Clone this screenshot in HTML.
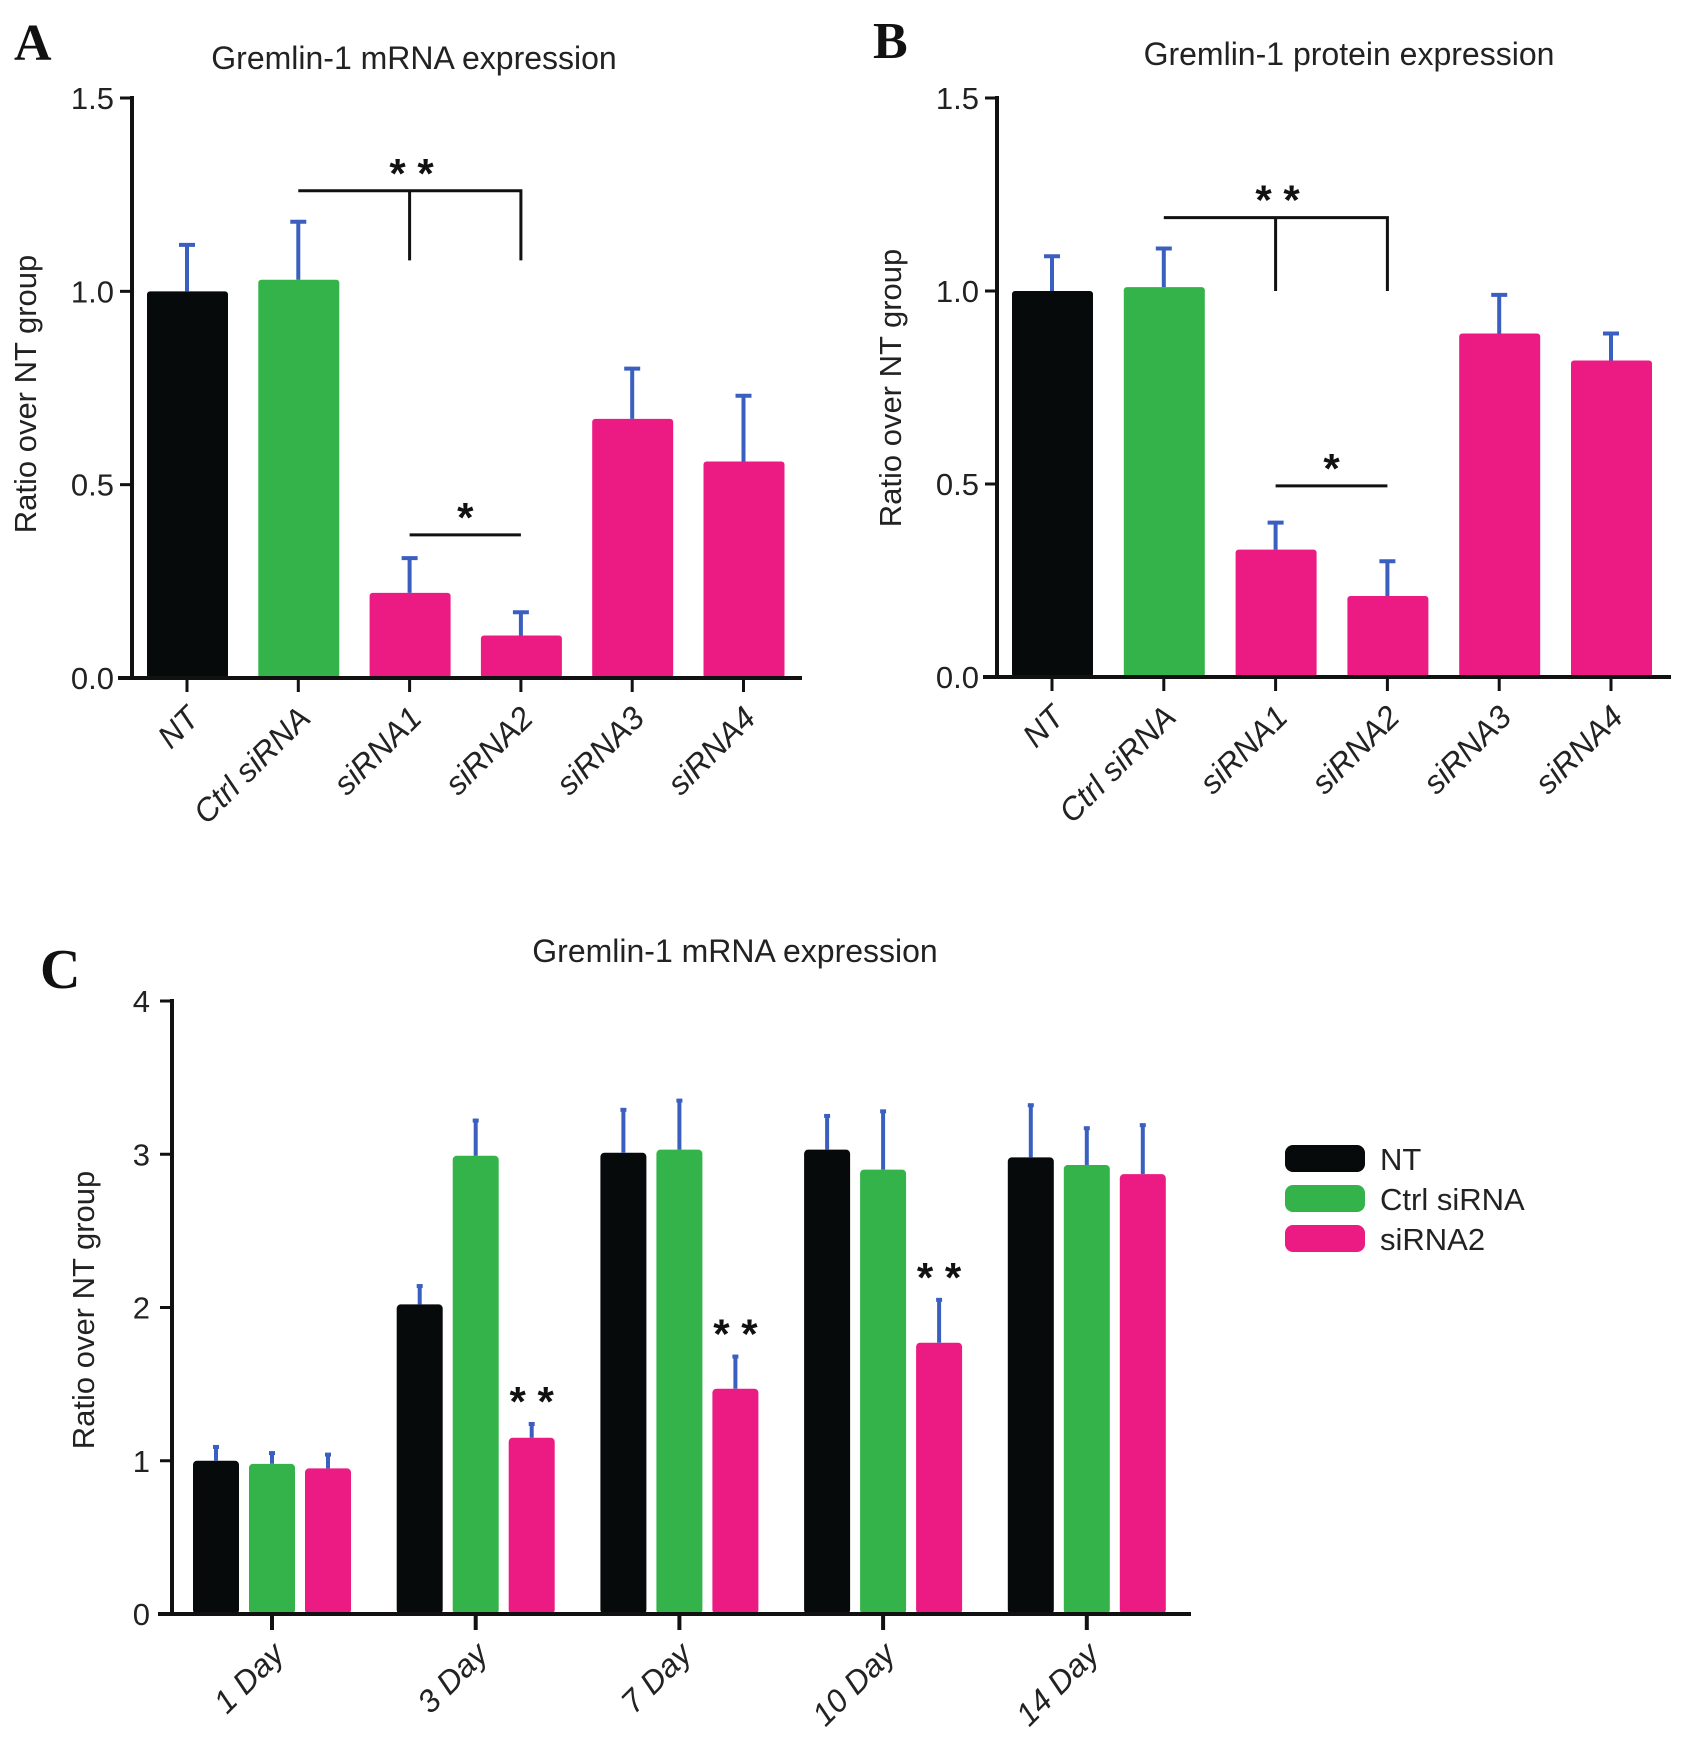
<!DOCTYPE html>
<html><head><meta charset="utf-8"><style>
body{margin:0;background:#fff;}
svg{display:block;font-family:"Liberation Sans",sans-serif;}
</style></head><body>
<svg id="fig" width="1681" height="1740" viewBox="0 0 1681 1740" xmlns="http://www.w3.org/2000/svg"></svg>
<script>
// Panel A data
const catsA = ["NT","Ctrl siRNA","siRNA1","siRNA2","siRNA3","siRNA4"];
const valsA = [1.0,1.03,0.22,0.11,0.67,0.56];
const errA = [1.12,1.18,0.31,0.17,0.80,0.73];
// Panel B data
const catsB = ["NT","Ctrl siRNA","siRNA1","siRNA2","siRNA3","siRNA4"];
const valsB = [1.0,1.01,0.33,0.21,0.89,0.82];
const errB = [1.09,1.11,0.40,0.30,0.99,0.89];
const ticksAB = [0.0,0.5,1.0,1.5];
// Panel C data
const daysC = ["1 Day","3 Day","7 Day","10 Day","14 Day"];
const seriesC = ["NT","Ctrl siRNA","siRNA2"];
const ntC = [1.0,2.02,3.01,3.03,2.98];
const ntErrC = [1.09,2.14,3.29,3.25,3.32];
const ctrlC = [0.98,2.99,3.03,2.90,2.93];
const ctrlErrC = [1.05,3.22,3.35,3.28,3.17];
const si2C = [0.95,1.15,1.47,1.77,2.87];
const si2ErrC = [1.04,1.24,1.68,2.05,3.19];
const ticksC = [0,1,2,3,4];
const starsC = ["","**","**","**",""];

const NS="http://www.w3.org/2000/svg";
const svg=document.getElementById('fig');
const colors=["#060a0a","#33b34a","#ec1a83"];
const catColA=[0,1,2,2,2,2];
function mk(tag,attrs,parent,text){const e=document.createElementNS(NS,tag);for(const k in attrs)e.setAttribute(k,attrs[k]);if(text!==undefined)e.textContent=text;(parent||svg).appendChild(e);return e;}

function panelAB(cats,vals,errs,o,name){
  const g=mk('g',{});
  
  
  const y=v=>o.y0-(o.y0-o.y1)*v/1.5;
  const x=i=>o.x0t+o.step*i;
  cats.forEach((c,i)=>{
    const top=y(vals[i]);
    const b=mk('rect',{x:x(i)-40,y:top,width:81,height:o.y0-top,fill:colors[catColA[i]],rx:3},g);
    
    
    const e=mk('path',{d:`M${x(i)},${top} V${y(errs[i])} M${x(i)-8},${y(errs[i])} H${x(i)+8}`,stroke:'#3a5fbf','stroke-width':4,fill:'none'},g);
    
    
    mk('line',{x1:x(i),y1:o.y0,x2:x(i),y2:o.y0+14,stroke:'#111','stroke-width':3},g);
    const t=mk('text',{x:0,y:0,'font-size':32,'font-style':'italic','text-anchor':'end',transform:`translate(${x(i)+14},${o.y0+42}) rotate(-45)`,fill:'#222'},g,c);
    
    
  });
  mk('line',{x1:o.ax,y1:o.y1-2,x2:o.ax,y2:o.y0+2,stroke:'#111','stroke-width':4},g);
  mk('line',{x1:o.ax-14,y1:o.y0,x2:o.xend,y2:o.y0,stroke:'#111','stroke-width':4},g);
  ticksAB.forEach(t=>{
    mk('line',{x1:o.ax-12,y1:y(t),x2:o.ax,y2:y(t),stroke:'#111','stroke-width':3},g);
    const l=mk('text',{x:o.ax-18,y:y(t)+11,'font-size':31,'text-anchor':'end',fill:'#222'},g,t.toFixed(1));
    
    
  });
  const yt=mk('text',{x:0,y:0,'font-size':31,'text-anchor':'middle',transform:`translate(${o.ytx},${o.yty}) rotate(-90)`,fill:'#222'},g,'Ratio over NT group');
  
  
  const tt=mk('text',{x:o.tx,y:o.ty,'font-size':32,'text-anchor':'middle',fill:'#222'},g,o.title);
  
  
  const lt=mk('text',{x:o.lx,y:o.ly,'font-size':52,'font-weight':'bold','font-family':'Liberation Serif, serif',fill:'#111'},g,o.letter);
  
  
  const by=y(o.br), bd=y(o.brd);
  const br=mk('path',{d:`M${x(1)},${by} H${x(3)} V${bd} M${x(2)},${by} V${bd}`,stroke:'#111','stroke-width':3,fill:'none'},g);
  
  
  mk('text',{x:x(2)+2,y:by-3,'font-size':42,'font-weight':'bold','text-anchor':'middle',fill:'#111'},g,'* *');
  const sl=y(o.sl);
  mk('line',{x1:x(2),y1:sl,x2:x(3),y2:sl,stroke:'#111','stroke-width':3},g);
  mk('text',{x:(x(2)+x(3))/2,y:sl-3,'font-size':42,'font-weight':'bold','text-anchor':'middle',fill:'#111'},g,'*');
}
panelAB(catsA,valsA,errA,{ax:132,y0:678,y1:98,x0t:187,step:111.3,xend:802,ytx:36,yty:394,tx:414,ty:69,title:'Gremlin-1  mRNA expression',letter:'A',lx:14,ly:60,br:1.26,brd:1.08,sl:0.37},'panel-a');
panelAB(catsB,valsB,errB,{ax:997,y0:677,y1:98,x0t:1052,step:111.8,xend:1671,ytx:901,yty:388,tx:1349,ty:65,title:'Gremlin-1 protein expression',letter:'B',lx:873,ly:58,br:1.19,brd:1.0,sl:0.495},'panel-b');

// Panel C
(function(){
  const g=mk('g',{});
  
  
  const ax=172,y0=1614,y1=1001,xend=1191;
  const y=v=>y0-(y0-y1)*v/4;
  const x=i=>272+203.7*i;
  const sets=[[ntC,ntErrC],[ctrlC,ctrlErrC],[si2C,si2ErrC]];
  daysC.forEach((d,i)=>{
    sets.forEach((s,j)=>{
      const cx=x(i)+(j-1)*56, top=y(s[0][i]);
      const b=mk('rect',{x:cx-23,y:top,width:46,height:y0-top,fill:colors[j],rx:4},g);
      
      
      const e=mk('path',{d:`M${cx},${top} V${y(s[1][i])}`,stroke:'#3a5fbf','stroke-width':4,fill:'none'},g);
      
      
      mk('line',{x1:cx-3,y1:y(s[1][i]),x2:cx+3,y2:y(s[1][i]),stroke:'#3a5fbf','stroke-width':4},g);
    });
    if(starsC[i]){
      const cx=x(i)+56;
      const st=mk('text',{x:cx,y:y(si2ErrC[i])-8,'font-size':42,'font-weight':'bold','text-anchor':'middle',fill:'#111'},g,'* *');
      
      
    }
    mk('line',{x1:x(i),y1:y0,x2:x(i),y2:y0+16,stroke:'#111','stroke-width':4},g);
    const t=mk('text',{x:0,y:0,'font-size':32,'font-style':'italic','text-anchor':'end',transform:`translate(${x(i)+14},${y0+42}) rotate(-45)`,fill:'#222'},g,d);
    
    
  });
  mk('line',{x1:ax,y1:y1-2,x2:ax,y2:y0+2,stroke:'#111','stroke-width':4},g);
  mk('line',{x1:ax-14,y1:y0,x2:xend,y2:y0,stroke:'#111','stroke-width':4},g);
  ticksC.forEach(t=>{
    mk('line',{x1:ax-12,y1:y(t),x2:ax,y2:y(t),stroke:'#111','stroke-width':3},g);
    const l=mk('text',{x:ax-22,y:y(t)+11,'font-size':31,'text-anchor':'end',fill:'#222'},g,String(t));
    
    
  });
  const yt=mk('text',{x:0,y:0,'font-size':31,'text-anchor':'middle',transform:`translate(${94},${1310}) rotate(-90)`,fill:'#222'},g,'Ratio over NT group');
  
  
  const tt=mk('text',{x:735,y:962,'font-size':32,'text-anchor':'middle',fill:'#222'},g,'Gremlin-1 mRNA expression');
  
  
  const lt=mk('text',{x:40,y:988,'font-size':56,'font-weight':'bold','font-family':'Liberation Serif, serif',fill:'#111'},g,'C');
  
  
  seriesC.forEach((s,j)=>{
    const ly=1158+40*j;
    const sw=mk('rect',{x:1285,y:ly-13,width:80,height:27,rx:8,fill:colors[j]},g);
    
    
    const lt2=mk('text',{x:1380,y:ly+12,'font-size':31,fill:'#222'},g,s);
    
    
  });
})();
</script>
</body></html>
